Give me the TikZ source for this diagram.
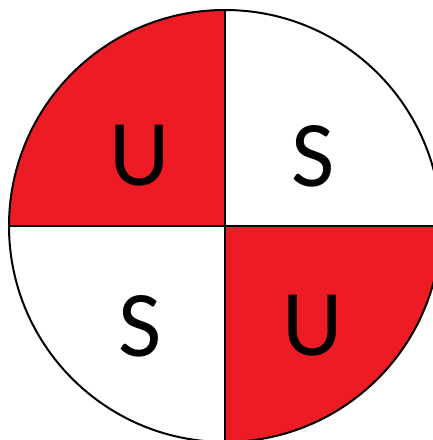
\documentclass[tikz,border=0pt]{standalone}
\usepackage{fontspec}
\setmainfont{Carlito}
\definecolor{qred}{HTML}{ED1C24}
\begin{document}
\begin{tikzpicture}[x=1pt,y=1pt,
  letter/.style={font=\fontsize{94}{94}\selectfont, text=black, inner sep=0pt, anchor=center},
  edge/.style={draw=black, line width=2pt}]
\useasboundingbox (0,0) rectangle (433,440);
\clip (0,0) rectangle (433,440);
\coordinate (c) at (225,214);
\fill[white] (0,0) rectangle (433,440);
\fill[qred] (c) -- ++(-216,0) arc[start angle=180,end angle=90,radius=216] -- cycle;
\fill[qred] (c) -- ++(216,0) arc[start angle=0,end angle=-90,radius=216] -- cycle;
\draw[edge] (c) circle[radius=216];
\coordinate (top) at (225,430);
\coordinate (bot) at (225,-2);
\coordinate (lft) at (9,214);
\coordinate (rgt) at (441,214);
\draw[edge] (top) -- (bot);
\draw[edge] (lft) -- (rgt);
\node[letter] (u1) at (140,284) {U};
\node[letter] (s1) at (313,284) {S};
\node[letter] (s2) at (140,114) {S};
\node[letter] (u2) at (313,114) {U};
\end{tikzpicture}
\end{document}
